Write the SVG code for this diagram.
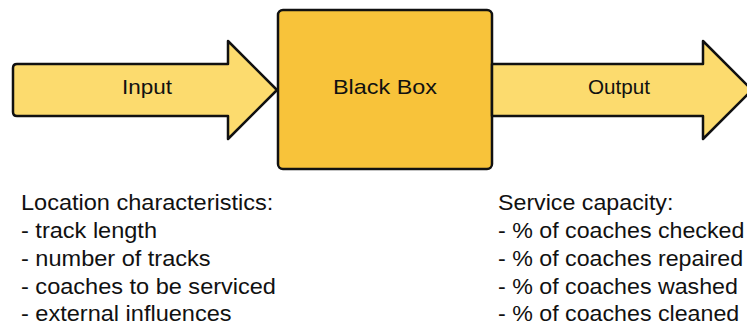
<svg xmlns="http://www.w3.org/2000/svg" width="747" height="326" viewBox="0 0 747 326">
<style>
.arrow{fill:#FCDB6E;stroke:#111;stroke-width:2.5;stroke-linejoin:round}
.box{fill:#F8C33A;stroke:#111;stroke-width:2.5}
.lbl{font-family:"Liberation Sans",Arial,sans-serif;font-size:21px;fill:#111;text-anchor:middle}
.txt{font-family:"Liberation Sans",Arial,sans-serif;font-size:22px;fill:#111}
</style>
<rect width="747" height="326" fill="#fff"/>
<g id="input">
<path class="arrow" d="M17,64 H228 V41 L277,90 L228,139 V116 H17 Q13,116 13,112 V68 Q13,64 17,64 Z"/>
<text class="lbl" x="147" y="94" textLength="50" lengthAdjust="spacingAndGlyphs">Input</text>
</g>
<g id="blackbox">
<rect class="box" x="278" y="10" width="214" height="159" rx="5"/>
<text class="lbl" x="385" y="94" textLength="104" lengthAdjust="spacingAndGlyphs">Black Box</text>
</g>
<g id="output">
<path class="arrow" d="M492,64 H703 V41 L752,90 L703,139 V116 H492 Z"/>
<text class="lbl" x="619" y="94" textLength="62" lengthAdjust="spacingAndGlyphs">Output</text>
</g>
<g id="connectors"></g>
<g id="left-text" transform="translate(21,0) scale(1.07,1)">
<text class="txt" x="0" y="210">Location characteristics:</text>
<text class="txt" x="0" y="238">- track length</text>
<text class="txt" x="0" y="266">- number of tracks</text>
<text class="txt" x="0" y="294">- coaches to be serviced</text>
<text class="txt" x="0" y="321">- external influences</text>
</g>
<g id="right-text" transform="translate(498,0) scale(1.055,1)">
<text class="txt" x="0" y="210">Service capacity:</text>
<text class="txt" x="0" y="238">- % of coaches checked</text>
<text class="txt" x="0" y="266">- % of coaches repaired</text>
<text class="txt" x="0" y="294">- % of coaches washed</text>
<text class="txt" x="0" y="321">- % of coaches cleaned</text>
</g>
</svg>
